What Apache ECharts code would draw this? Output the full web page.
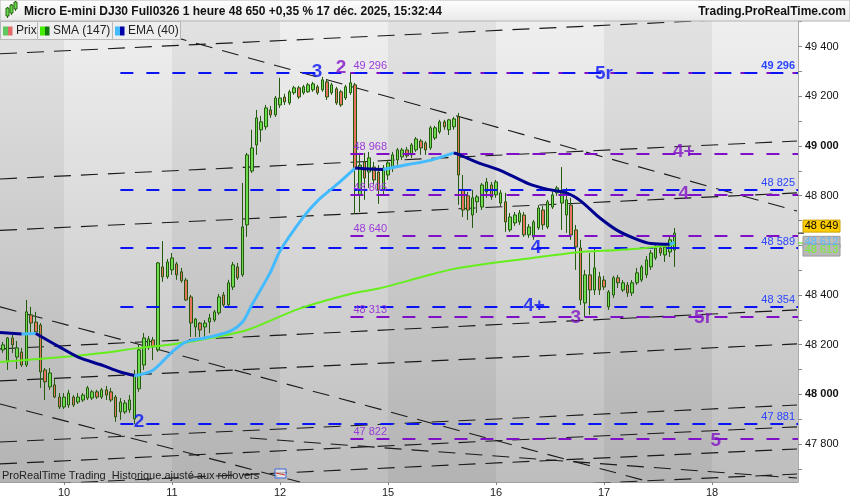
<!DOCTYPE html>
<html><head><meta charset="utf-8">
<script src="https://cdn.jsdelivr.net/npm/echarts@6/dist/echarts.min.js"></script>
<style>html,body{margin:0;padding:0;background:#fff}#c{width:850px;height:500px}</style>
</head><body><div id="c"></div>
<script>
// ---------- data ----------
const dayLabels = ['10','11','12','15','16','17','18'];
const dayStarts = [0,23,46,69,92,115,138];
const firstCandleX = -13;
const opens = [48179,48130,48227,48150,48170,48118,48320,48291,48279,48098,48030,48038,47989,47949,
 47957,47989,47969,47977,47985,47985,48010,47989,48018,48010,47989,47929,47929,47937,47901,48022,48118,48187,48219,48179,48513,48473,48501,
 48525,48493,48460,48392,48271,48287,48271,48291,48299,48328,48400,48360,48432,48513,48481,48682,48899,49004,49065,49077,49145,49125,49165,
 49197,49173,49214,49234,49214,49218,49226,49238,49226,49258,49214,49230,49218,49193,49214,49246,48803,48936,48895,48915,48895,48823,48883,
 48911,48944,48956,48984,48964,48984,49020,49012,48992,49032,49057,49097,49065,49077,49117,48823,48799,48722,48775,48754,48815,48843,48803,
 48770,48775,48662,48690,48694,48722,48642,48634,48670,48742,48674,48754,48811,48770,48722,48762,48662,48589,48368,48481,48420,48473,48460,
 48352,48400,48469,48420,48440,48408,48449,48460,48481,48513,48549,48589,48561,48573,48581];
const closes = [48199,48227,48199,48187,48118,48332,48287,48251,48090,48050,48086,47989,47949,47989,
 48005,47957,47989,47997,48026,48010,47989,48018,47997,47977,47909,47969,47965,47977,48078,48179,48227,48223,48191,48529,48473,48533,48549,
 48481,48457,48380,48287,48303,48259,48287,48307,48332,48392,48360,48449,48521,48469,48674,48964,48992,49113,49097,49153,49125,49193,49193,
 49177,49218,49234,49197,49238,49246,49250,49214,49266,49197,49246,49173,49165,49238,49254,48908,48923,48871,48952,48863,48823,48911,48932,
 48964,48984,48984,48960,49004,49028,48992,48984,49073,49073,49097,49077,49105,49109,48883,48742,48742,48791,48795,48843,48855,48795,48855,
 48811,48694,48714,48722,48730,48642,48674,48694,48750,48682,48775,48803,48831,48811,48783,48642,48593,48380,48481,48420,48509,48420,48432,
 48412,48469,48449,48449,48408,48449,48489,48513,48541,48569,48589,48569,48593,48622,48649];
const lows = [48167,48098,48166,48102,48110,48110,48247,48247,48026,47977,48018,47985,47941,47941,
 47945,47949,47961,47969,47977,47977,47981,47981,47977,47969,47889,47897,47921,47925,47881,48010,48098,48179,48138,48171,48453,48465,48481,
 48461,48449,48376,48231,48231,48231,48231,48247,48291,48320,48352,48352,48420,48461,48473,48634,48891,48964,49016,49065,49113,49117,49153,
 49165,49165,49206,49189,49206,49214,49218,49206,49218,49185,49206,49165,49157,49185,49206,48726,48734,48783,48831,48843,48767,48803,48863,
 48895,48924,48944,48952,48952,48976,48964,48964,48984,49024,49049,49065,49044,49065,48763,48714,48702,48670,48730,48742,48791,48783,48791,
 48758,48654,48654,48678,48682,48634,48630,48622,48662,48662,48666,48746,48799,48662,48650,48622,48501,48360,48312,48320,48400,48400,48420,
 48340,48388,48428,48412,48392,48396,48440,48452,48468,48501,48541,48557,48533,48553,48513];
const highs = [48211,48231,48239,48215,48187,48380,48352,48332,48287,48106,48106,48066,48005,48005,
 48018,47997,48005,48005,48034,48018,48018,48026,48034,48026,47997,47985,47977,47997,48098,48199,48247,48235,48231,48533,48617,48545,48569,
 48533,48509,48469,48400,48307,48291,48299,48324,48340,48404,48412,48461,48533,48529,48851,48972,49065,49145,49121,49165,49161,49201,49274,
 49210,49226,49242,49242,49246,49254,49258,49246,49278,49266,49254,49238,49226,49246,49296,49254,48972,48972,48976,48936,48923,48923,48944,
 48976,48992,48992,48996,49012,49036,49028,49020,49081,49081,49105,49105,49109,49117,49133,48883,48815,48823,48803,48851,48871,48855,48863,
 48823,48811,48730,48734,48742,48734,48686,48702,48762,48758,48783,48815,48839,48915,48831,48791,48682,48622,48501,48569,48589,48493,48477,
 48420,48477,48481,48460,48452,48460,48509,48521,48557,48581,48605,48597,48609,48634,48670];

const smaX = [-14,1,8,16,22,29,39,50,61,67,76,83,92,99,109,118,125,130];
const smaY = [48130,48152,48166,48187,48199,48219,48259,48344,48404,48426,48471,48505,48531,48547,48571,48581,48591,48604];
const emaX = [-14,-9,-6,-1,3,8,12,15,16,19,23,26,30,35,38,40,44,46,51,54,58,62,65,68,73,78,83,84,88,93,99,103,107,110,114,118,122,125,129,130];
const emaY = [48249,48243,48245,48191,48150,48118,48090,48076,48078,48098,48170,48211,48227,48251,48291,48360,48493,48577,48714,48779,48843,48911,48907,48905,48924,48942,48972,48966,48934,48901,48847,48825,48811,48779,48712,48658,48624,48607,48604,48612];

const blueLevels = [49296,48825,48589,48354,47881];
const purpleLevels = [49296,48968,48805,48640,48313,47822];
const blueStartX = 12;
const purpleStartX = 61;

const waveText  = ['3','2','5r','4+','4','4','4+','3','5r','2','5'];
const waveX     = [53.9,59.0,115.0,132.0,132.0,100.5,100.1,109.0,136.1,16.0,138.8];
const waveY     = [49298,49314,49290,48976,48807,48589,48356,48307,48307,47889,47812];
const waveColor = ['b','p','b','p','p','b','b','p','p','b','p'];

// trend lines: [x1, price1, x2, price2]
const trendLines = [
 [-13.63,49371,156.1,49522],
 [-13.63,48867,156.1,49020],
 [-13.63,48660,156.1,48811],
 [-13.63,48183,156.1,48340],
 [-13.63,48054,156.1,48203],
 [-13.63,47808,156.1,47957],
 [-13.63,47720,156.1,47869],
 [-13.63,47631,156.1,47780],
 [-13.63,47534,156.1,47679],
 [22.57,49443,156.1,48738],
 [-13.63,48352,124.8,47647],
 [-13.63,47961,50.26,47647],
 [39.6,47824,156.1,47663]
];

const yTickLabels = [47800,48000,48200,48400,48600,48800,49000,49200,49400];
const yMinorTicks = [47700,47800,47900,48000,48100,48200,48300,48400,48500,48600,48700,48800,48900,49000,49100,49200,49300,49400,49500];
const lastPrice = 48649, lastSMA = 48613, lastEMA = 48612;

// ---------- chart ----------
const FONT = "'Liberation Sans', Arial, Helvetica, sans-serif";
const X_MIN = -13.63, X_MAX = 156.31, Y_MIN = 47647, Y_MAX = 49503;
const BLUE = '#0a14f5', PURPLE = '#8010c8';
const fmt = v => String(Math.round(v)).replace(/\B(?=(\d{3})+(?!\d))/g, ' ');

const candles = opens.map((o, i) => [firstCandleX + i, o, closes[i], lows[i], highs[i]]);

function segments(xs, ys) {
  const segs = []; let cur = null;
  for (let i = 1; i < xs.length; i++) {
    const up = ys[i] >= ys[i - 1];
    if (!cur || cur.up !== up) { cur = { up, pts: [[xs[i - 1], ys[i - 1]]] }; segs.push(cur); }
    cur.pts.push([xs[i], ys[i]]);
  }
  return segs;
}

const darkBands = [[X_MIN, dayStarts[0]]];
for (let i = 1; i < dayStarts.length - 1; i += 2) darkBands.push([dayStarts[i], dayStarts[i + 1]]);

const series = [];
series.push({
  type: 'line', data: [], silent: true, z: 0,
  markArea: { silent: true, itemStyle: { color: 'rgba(0,0,0,0.05)' },
    data: darkBands.map(b => [{ xAxis: b[0] }, { xAxis: b[1] }]) }
});
trendLines.forEach(t => series.push({
  type: 'line', data: [[t[0], t[1]], [t[2], t[3]]], symbol: 'none', silent: true, z: 1,
  lineStyle: { color: '#1a1a1a', width: 1.1, type: [17, 10] }
}));
series.push({
  type: 'candlestick', data: candles, barWidth: 3, z: 3,
  itemStyle: { color: '#6ddc4e', color0: '#e8745f', borderColor: '#245a0e', borderColor0: '#245a0e', borderWidth: 1 }
});
const lvlLabel = { show: true, fontSize: 11, fontFamily: FONT, distance: [3, 1] };
series.push({
  type: 'line', data: [], silent: true, z: 4,
  markLine: { silent: true, symbol: ['none', 'none'], animation: false,
    data: purpleLevels.map(v => [{ coord: [purpleStartX, v], lineStyle: { color: PURPLE, width: 2, type: [13, 13] },
      label: Object.assign({}, lvlLabel, { position: 'insideStartTop', color: '#9a3ad8', formatter: fmt(v) }) },
      { coord: [X_MAX, v] }]) }
});
series.push({
  type: 'line', data: [], silent: true, z: 4,
  markLine: { silent: true, symbol: ['none', 'none'], animation: false,
    data: blueLevels.map((v, i) => [{ coord: [blueStartX, v], lineStyle: { color: BLUE, width: 2, type: [13, 13] },
      label: Object.assign({}, lvlLabel, { position: 'insideEndTop', color: '#2a44ff', fontWeight: i === 0 ? 'bold' : 'normal', formatter: fmt(v) }) },
      { coord: [X_MAX, v] }]) }
});
segments(smaX, smaY).forEach(s => series.push({
  type: 'line', data: s.pts, symbol: 'none', smooth: 0.3, silent: true, z: 5,
  lineStyle: { color: s.up ? '#66ee1c' : '#118811', width: 2 }
}));
segments(emaX, emaY).forEach(s => series.push({
  type: 'line', data: s.pts, symbol: 'none', smooth: 0.3, silent: true, z: 6,
  lineStyle: { color: s.up ? '#44bbff' : '#000090', width: 3 }
}));
series.push({
  type: 'scatter', symbolSize: 1, z: 8, silent: true,
  itemStyle: { color: 'rgba(0,0,0,0)' },
  label: { show: true, position: 'inside', formatter: '{b}', fontSize: 19, fontWeight: 'bold', fontFamily: FONT },
  data: waveText.map((t, i) => ({ name: t, value: [waveX[i], waveY[i]], label: { color: waveColor[i] === 'b' ? BLUE : PURPLE } }))
});

const chart = echarts.init(document.getElementById('c'), null, { renderer: 'canvas' });
chart.setOption({
  animation: false,
  backgroundColor: '#ffffff',
  grid: { left: 0, right: 52, top: 21, bottom: 18, show: true, borderWidth: 0,
    backgroundColor: new echarts.graphic.LinearGradient(0, 0, 0, 1, [{ offset: 0, color: '#efefef' }, { offset: 1, color: '#bdbdbd' }]) },
  xAxis: { type: 'value', min: X_MIN, max: X_MAX,
    axisLine: { show: true, onZero: false, lineStyle: { color: '#a0a0a0' } },
    axisTick: { show: true, customValues: dayStarts, length: 3, lineStyle: { color: '#888' } },
    axisLabel: { customValues: dayStarts, formatter: v => dayLabels[dayStarts.indexOf(v)], margin: 5, fontSize: 11, color: '#222', fontFamily: FONT },
    splitLine: { show: false } },
  yAxis: { type: 'value', position: 'right', min: Y_MIN, max: Y_MAX,
    axisLine: { show: true, onZero: false, lineStyle: { color: '#aaaaaa' } },
    axisTick: { show: true, customValues: yMinorTicks, length: 4, lineStyle: { color: '#888' } },
    axisLabel: { customValues: yTickLabels, margin: 7, fontSize: 11, color: '#111', fontFamily: FONT,
      formatter: v => (v % 1000 === 0 ? '{b|' + fmt(v) + '}' : fmt(v)),
      rich: { b: { fontWeight: 'bold', fontSize: 11, color: '#111', fontFamily: FONT } } },
    splitLine: { show: false } },
  series: series
});

// ---------- overlays (header, legend, footer, price boxes) ----------
const yP = chart.convertToPixel({ yAxisIndex: 0 }, lastPrice);
const yS = chart.convertToPixel({ yAxisIndex: 0 }, lastSMA);
const yE = chart.convertToPixel({ yAxisIndex: 0 }, lastEMA);
const plotRight = chart.convertToPixel({ xAxisIndex: 0 }, X_MAX);

const g = [];
g.push({ type: 'rect', z: 100, shape: { x: 0, y: 0, width: 850, height: 21 },
  style: { fill: { type: 'linear', x: 0, y: 0, x2: 0, y2: 1, colorStops: [{ offset: 0, color: '#ffffff' }, { offset: 1, color: '#e8e8e8' }] }, stroke: '#b4b4b4', lineWidth: 1 } });
[[6, 8, 8], [10, 5, 8], [14, 2, 7]].forEach(c => {
  g.push({ type: 'line', z: 101, shape: { x1: c[0] + 1.5, y1: c[1] - 1, x2: c[0] + 1.5, y2: c[1] + c[2] + 2 }, style: { stroke: '#2a6a12', lineWidth: 1 } });
  g.push({ type: 'rect', z: 102, shape: { x: c[0], y: c[1], width: 3, height: c[2] }, style: { fill: '#66d94a', stroke: '#2a6a12', lineWidth: 1 } });
});
g.push({ type: 'text', z: 101, x: 24, y: 11.5, style: { text: 'Micro E-mini DJ30 Full0326 1 heure 48 650 +0,35 % 17 déc. 2025, 15:32:44', font: 'bold 12px ' + FONT, fill: '#111', align: 'left', verticalAlign: 'middle' } });
g.push({ type: 'text', z: 101, x: 846, y: 11.5, style: { text: 'Trading.ProRealTime.com', font: 'bold 12px ' + FONT, fill: '#111', align: 'right', verticalAlign: 'middle' } });

const legendItems = [
  { text: 'Prix', x: 0, w: 37, c1: '#5ec85e', c2: '#e46a6a' },
  { text: 'SMA (147)', x: 37, w: 75, c1: '#44ee00', c2: '#117711' },
  { text: 'EMA (40)', x: 112, w: 68, c1: '#44bbff', c2: '#0000aa' }
];
legendItems.forEach(it => {
  g.push({ type: 'rect', z: 100, shape: { x: it.x + 0.5, y: 21.5, width: it.w, height: 18 }, style: { fill: '#eeeeee', stroke: '#b8b8b8', lineWidth: 1 } });
  g.push({ type: 'rect', z: 101, shape: { x: it.x + 3, y: 26.5, width: 5, height: 9 }, style: { fill: it.c1 } });
  g.push({ type: 'rect', z: 101, shape: { x: it.x + 8, y: 26.5, width: 4.5, height: 9 }, style: { fill: it.c2 } });
  g.push({ type: 'text', z: 101, x: it.x + 16, y: 31, style: { text: it.text, font: '12px ' + FONT, fill: '#222', align: 'left', verticalAlign: 'middle' } });
});

g.push({ type: 'text', z: 101, x: 2, y: 476, style: { text: 'ProRealTime Trading  Historique ajusté aux rollovers', font: '11px ' + FONT, fill: '#222', align: 'left', verticalAlign: 'middle' } });
g.push({ type: 'rect', z: 101, shape: { x: 275, y: 469, width: 11, height: 9 }, style: { fill: 'rgba(255,255,255,0.6)', stroke: '#3a6ad8', lineWidth: 1 } });
g.push({ type: 'line', z: 102, shape: { x1: 276, y1: 473, x2: 285, y2: 475 }, style: { stroke: '#d83030', lineWidth: 1 } });

// price markers on axis
g.push({ type: 'line', z: 101, shape: { x1: plotRight, y1: yP, x2: plotRight + 6, y2: yP }, style: { stroke: '#000', lineWidth: 1 } });
g.push({ type: 'line', z: 101, shape: { x1: plotRight, y1: yS + 1, x2: plotRight + 6, y2: yS + 1 }, style: { stroke: '#44dd11', lineWidth: 1 } });
function priceBox(y, txt, fill, stroke, color) {
  g.push({ type: 'rect', z: 103, shape: { x: plotRight + 5, y: y - 6, width: 37, height: 12 }, style: { fill, stroke, lineWidth: 1 } });
  g.push({ type: 'text', z: 104, x: plotRight + 23.5, y: y, style: { text: txt, font: '11px ' + FONT, fill: color, align: 'center', verticalAlign: 'middle' } });
}
priceBox(yE, fmt(lastEMA), '#bcbcbc', '#9a9a9a', '#55bbff');
priceBox(yS + 8, fmt(lastSMA), '#b8b8b8', '#9a9a9a', '#77ee33');
priceBox(yP - 7, fmt(lastPrice), '#ffcc00', '#c9a200', '#000000');

chart.setOption({ graphic: g });
</script>
</body></html>
